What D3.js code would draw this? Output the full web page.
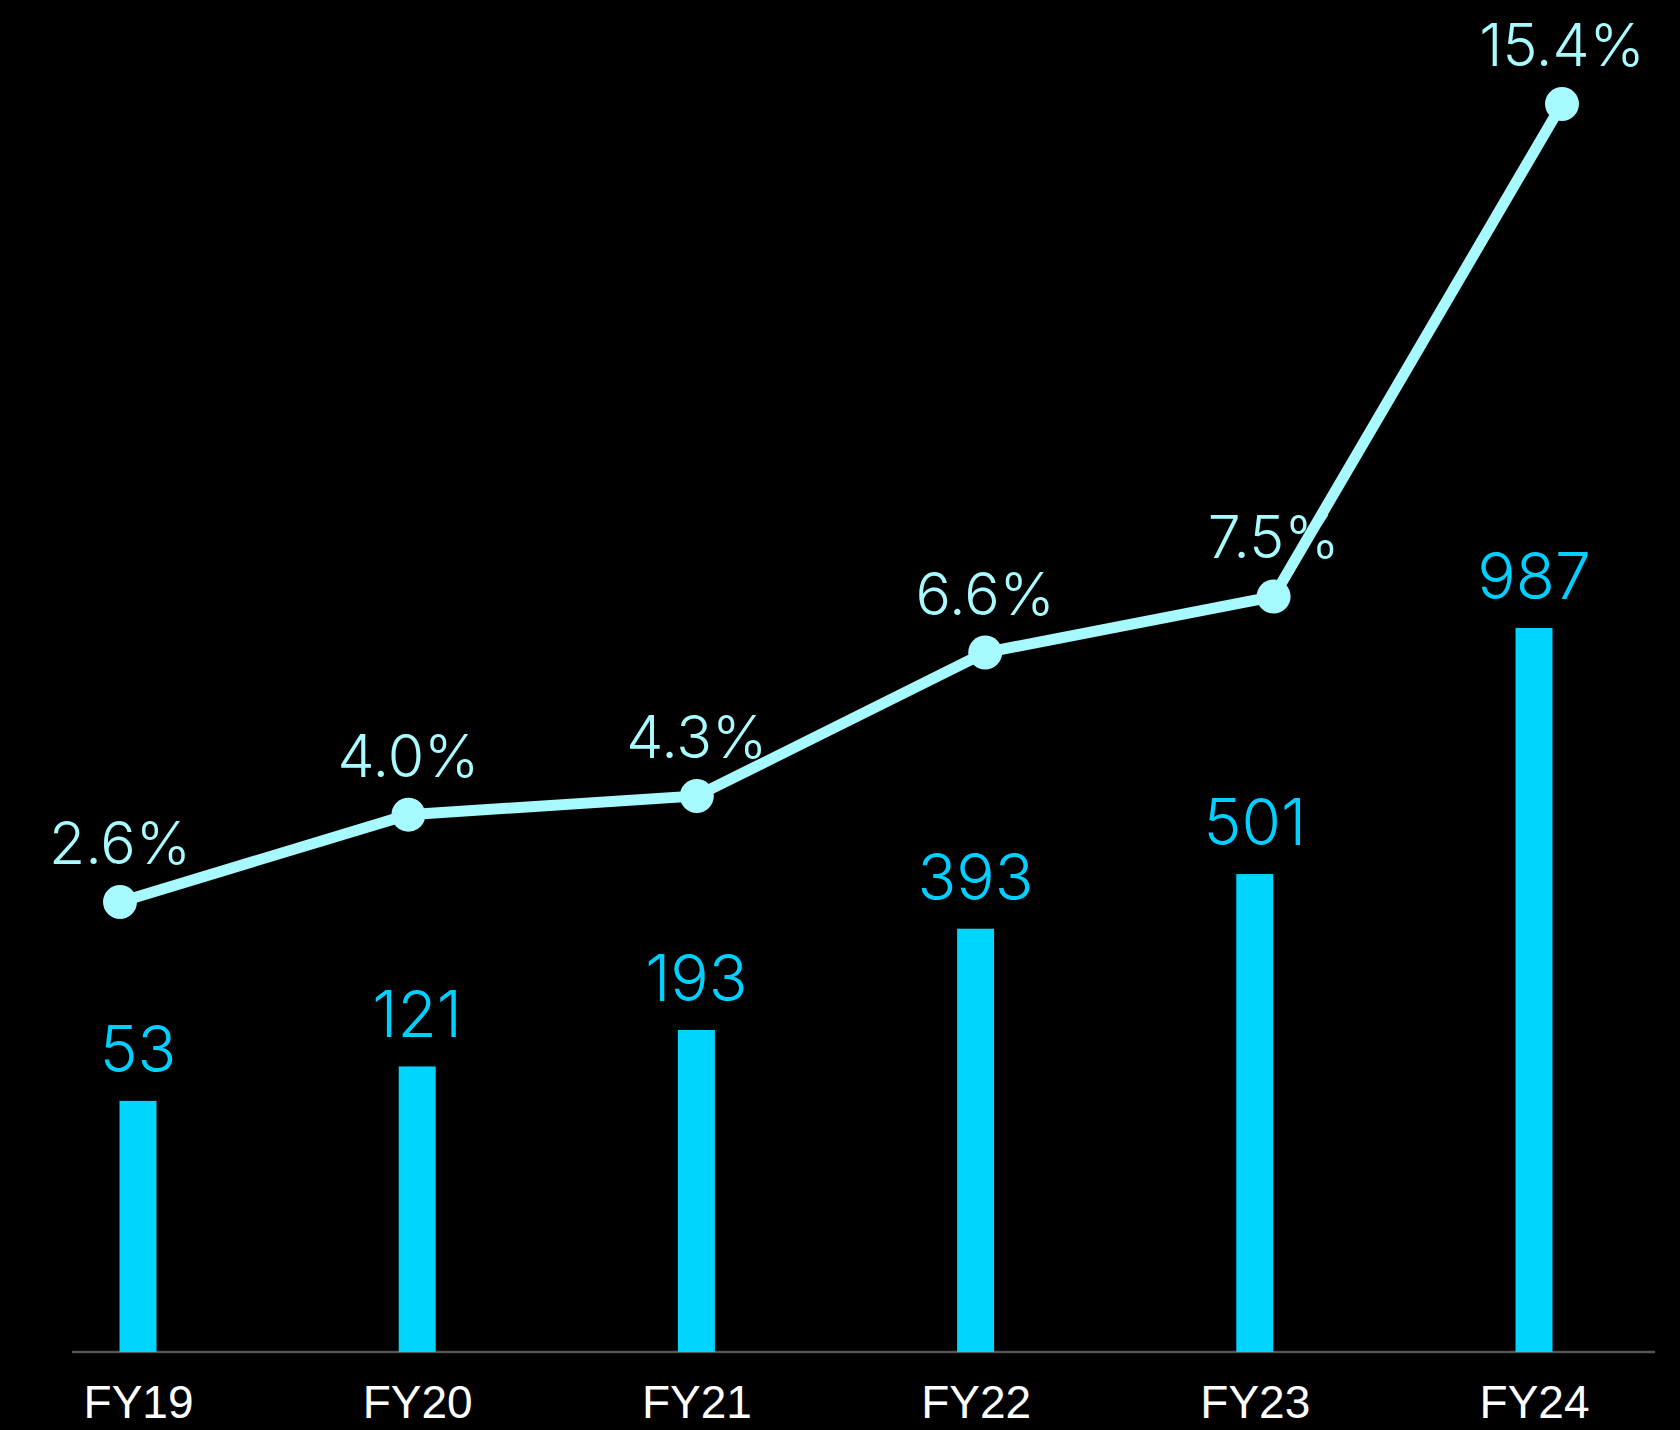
<!DOCTYPE html>
<html>
<head>
<meta charset="utf-8">
<script src="https://cdn.jsdelivr.net/npm/d3@7"></script>
<style>
  html, body { margin: 0; padding: 0; background: #000; }
  svg { display: block; }
</style>
</head>
<body>
<div id="container"></div>
<script>
(function(){
  "use strict";
  var categories = ["FY19", "FY20", "FY21", "FY22", "FY23", "FY24"];
  var barValues = [53, 121, 193, 393, 501, 987];
  var shareValues = [2.6, 4.0, 4.3, 6.6, 7.5, 15.4];

  var width = 1680;
  var height = 1430;
  var baseline = 1352;

  var svg = d3.select("#container").append("svg")
      .attr("width", width)
      .attr("height", height)
      .style("background", "#000");

  // bars and line sit on slightly different x grids in the original slide
  var xBar = d3.scalePoint().domain(categories).range([138, 1534]);
  var xLine = d3.scalePoint().domain(categories).range([120, 1562]);

  // bar axis does not start at zero (the slide exaggerates the small bars)
  var yBar = d3.scaleLinear().domain([-443, 987]).range([baseline, 628]);
  var yLine = d3.scaleLinear().domain([0, 15.4]).range([1064, 104]);

  var bars = categories.map(function(c, i) {
    return { cat: c, value: barValues[i], share: shareValues[i] };
  });

  // baseline
  svg.append("line")
      .attr("x1", 72).attr("x2", 1655)
      .attr("y1", baseline).attr("y2", baseline)
      .attr("stroke", "#555")
      .attr("stroke-width", 2.5);

  svg.selectAll("rect.bar")
      .data(bars)
    .enter().append("rect")
      .attr("class", "bar")
      .attr("x", function(d) { return xBar(d.cat) - 18.5; })
      .attr("width", 37)
      .attr("y", function(d) { return yBar(d.value); })
      .attr("height", function(d) { return baseline - yBar(d.value); })
      .attr("fill", "#00D5FF");

  svg.selectAll("text.barlabel")
      .data(bars)
    .enter().append("text")
      .attr("class", "barlabel")
      .attr("x", function(d) { return xBar(d.cat); })
      .attr("y", function(d) { return yBar(d.value) - 29; })
      .attr("text-anchor", "middle")
      .style("font-family", "Inter, Roboto, sans-serif")
      .style("font-weight", 300)
      .style("font-size", "64px")
      .attr("fill", "#00D0FF")
      .text(function(d) { return d.value; });

  var xAxis = d3.axisBottom(xBar).tickSize(0).tickPadding(0);
  var xAxisGroup = svg.append("g")
      .attr("transform", "translate(0," + baseline + ")")
      .call(xAxis);
  xAxisGroup.select(".domain").remove();
  xAxisGroup.selectAll("text")
      .attr("y", 66)
      .attr("dy", 0)
      .attr("fill", "#fff")
      .style("font-family", "'Liberation Sans', Arial, sans-serif")
      .style("font-size", "46px");

  var fmt = d3.format(".1f");
  svg.selectAll("text.sharelabel")
      .data(bars)
    .enter().append("text")
      .attr("class", "sharelabel")
      .attr("x", function(d) { return xLine(d.cat); })
      .attr("y", function(d) { return yLine(d.share) - 38; })
      .attr("text-anchor", "middle")
      .style("font-family", "Inter, Roboto, sans-serif")
      .style("font-weight", 300)
      .style("font-size", "59px")
      .attr("fill", "#A8FBFF")
      .text(function(d) { return fmt(d.share) + "%"; });

  var line = d3.line()
      .x(function(d) { return xLine(d.cat); })
      .y(function(d) { return yLine(d.share); });

  svg.append("path")
      .datum(bars)
      .attr("d", line)
      .attr("fill", "none")
      .attr("stroke", "#A6FAFF")
      .attr("stroke-width", 11);

  svg.selectAll("circle.dot")
      .data(bars)
    .enter().append("circle")
      .attr("class", "dot")
      .attr("cx", function(d) { return xLine(d.cat); })
      .attr("cy", function(d) { return yLine(d.share); })
      .attr("r", 17)
      .attr("fill", "#A6FAFF");
})();
</script>
</body>
</html>
